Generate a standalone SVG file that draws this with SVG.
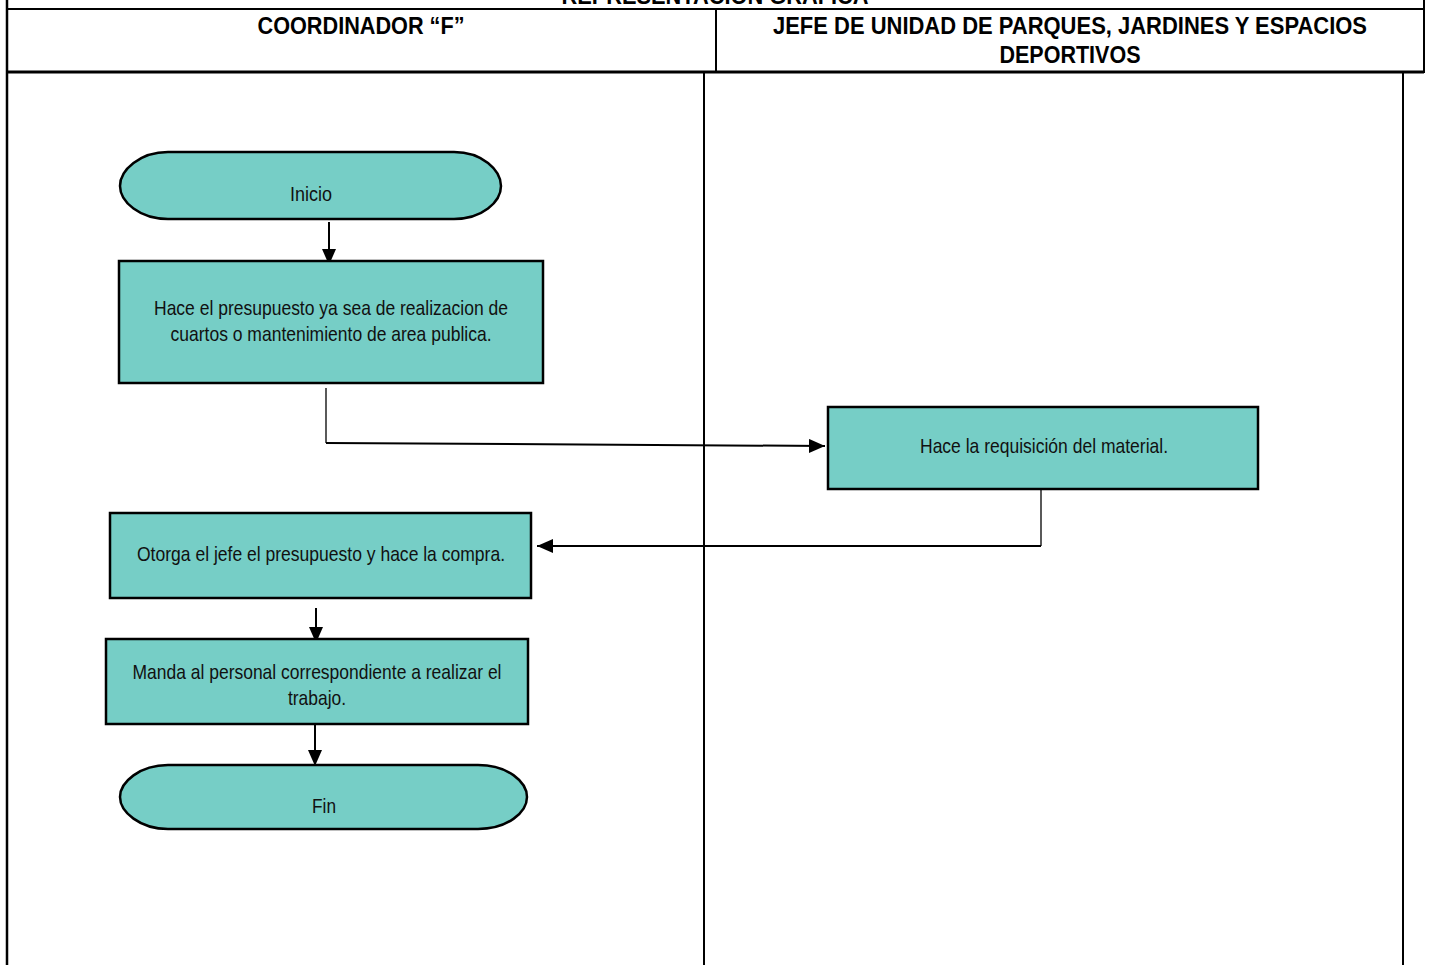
<svg xmlns="http://www.w3.org/2000/svg" width="1430" height="965" viewBox="0 0 1430 965">
<style>
.frame{stroke:#000;fill:none}
.node{fill:#76CEC6;stroke:#000;stroke-width:2.5}
.t{font-family:"Liberation Sans",Arial,sans-serif;font-size:21px;fill:#111;text-anchor:middle}
.h{font-family:"Liberation Sans",Arial,sans-serif;font-size:24px;font-weight:bold;fill:#000;text-anchor:middle}
.c{stroke:#000;stroke-width:2;fill:none}
</style>
<defs>
<marker id="arr" viewBox="0 0 16 14" refX="16" refY="7" markerWidth="16" markerHeight="14" markerUnits="userSpaceOnUse" orient="auto">
<path d="M0,0 L16,7 L0,14 Z" fill="#000"/>
</marker>
</defs>
<rect width="1430" height="965" fill="#fff"/>
<g id="frame">
<text class="h" x="715" y="4" textLength="307" lengthAdjust="spacingAndGlyphs">REPRESENTACION GRAFICA</text>
<line class="frame" x1="7" y1="9" x2="1424" y2="9" stroke-width="2"/>
<line class="frame" x1="7" y1="0" x2="7" y2="965" stroke-width="2.5"/>
<line class="frame" x1="1424" y1="0" x2="1424" y2="73" stroke-width="2"/>
<line class="frame" x1="716" y1="9" x2="716" y2="72" stroke-width="2"/>
<line class="frame" x1="7" y1="72" x2="1424" y2="72" stroke-width="3"/>
<line class="frame" x1="704" y1="72" x2="704" y2="965" stroke-width="2"/>
<line class="frame" x1="1403" y1="72" x2="1403" y2="965" stroke-width="2"/>
<text class="h" x="361" y="34" textLength="207" lengthAdjust="spacingAndGlyphs">COORDINADOR “F”</text>
<text class="h" x="1070" y="34" textLength="594" lengthAdjust="spacingAndGlyphs">JEFE DE UNIDAD DE PARQUES, JARDINES Y ESPACIOS</text>
<text class="h" x="1070" y="63" textLength="141" lengthAdjust="spacingAndGlyphs">DEPORTIVOS</text>
</g>
<g id="connectors">
<line class="c" x1="329" y1="222" x2="329" y2="265" marker-end="url(#arr)"/>
<polyline points="326,388 326,443" stroke="#000" stroke-width="1.3" fill="none"/>
<line class="c" x1="326" y1="443" x2="825" y2="446" marker-end="url(#arr)"/>
<polyline points="1041,490 1041,546" stroke="#000" stroke-width="1.3" fill="none"/>
<line class="c" x1="1041" y1="546" x2="537" y2="546" marker-end="url(#arr)"/>
<line class="c" x1="316" y1="608" x2="316" y2="643" marker-end="url(#arr)"/>
<line class="c" x1="315" y1="724" x2="315" y2="766" marker-end="url(#arr)"/>
</g>
<g id="inicio">
<path class="node" d="M168,152 H454 C482,152 501,170 501,186 C501,202 482,219 454,219 H168 C140,219 120,202 120,186 C120,170 140,152 168,152 Z"/>
<text class="t" x="311" y="201" textLength="42" lengthAdjust="spacingAndGlyphs">Inicio</text>
</g>
<g id="presupuesto">
<rect class="node" x="119" y="261" width="424" height="122"/>
<text class="t" x="331" y="315" textLength="354" lengthAdjust="spacingAndGlyphs">Hace el presupuesto ya sea de realizacion de</text>
<text class="t" x="331" y="341" textLength="321" lengthAdjust="spacingAndGlyphs">cuartos o mantenimiento de area publica.</text>
</g>
<g id="requisicion">
<rect class="node" x="828" y="407" width="430" height="82"/>
<text class="t" x="1044" y="453" textLength="248" lengthAdjust="spacingAndGlyphs">Hace la requisición del material.</text>
</g>
<g id="compra">
<rect class="node" x="110" y="513" width="421" height="85"/>
<text class="t" x="321" y="561" textLength="368" lengthAdjust="spacingAndGlyphs">Otorga el jefe el presupuesto y hace la compra.</text>
</g>
<g id="manda">
<rect class="node" x="106" y="639" width="422" height="85"/>
<text class="t" x="317" y="679" textLength="369" lengthAdjust="spacingAndGlyphs">Manda al personal correspondiente a realizar el</text>
<text class="t" x="317" y="705" textLength="58" lengthAdjust="spacingAndGlyphs">trabajo.</text>
</g>
<g id="fin">
<path class="node" d="M168,765 H478 C508,765 527,782 527,797 C527,812 508,829 478,829 H168 C140,829 120,812 120,797 C120,782 140,765 168,765 Z"/>
<text class="t" x="324" y="813" textLength="24" lengthAdjust="spacingAndGlyphs">Fin</text>
</g>
</svg>
